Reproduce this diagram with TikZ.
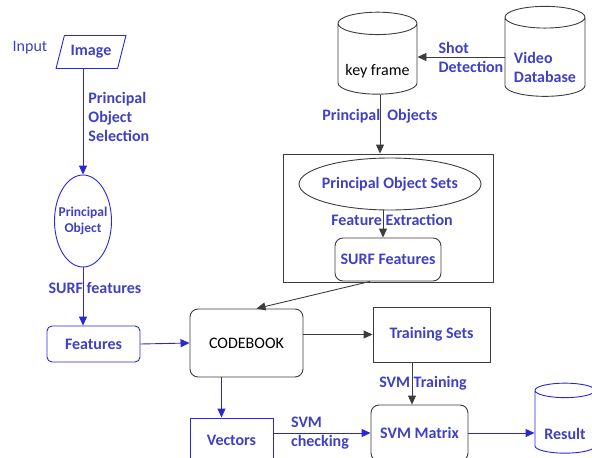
\documentclass[tikz,border=0pt]{standalone}
\usepackage{fontspec}
\setmainfont{Carlito}
\usetikzlibrary{arrows.meta,shapes.geometric}

\definecolor{lblue}{RGB}{64,64,196}
\definecolor{eblue}{RGB}{40,40,215}
\definecolor{kgray}{RGB}{60,60,60}

% text set lower inside a cylinder
\newcommand{\dbtext}[2]{\raisebox{-#1}[0pt][0pt]{\begin{tabular}{@{}l@{}}#2\end{tabular}}}

\begin{document}
\begin{tikzpicture}[x=1pt,y=-1pt,>={Triangle[width=8pt,length=9pt]},line width=0.9pt,
  lbl/.style={text=lblue,font=\bfseries\fontsize{16}{19}\selectfont,align=left,inner sep=1pt},
  blue node/.style={draw=eblue,text=lblue,font=\bfseries\fontsize{16}{19}\selectfont,inner sep=0pt},
  gray node/.style={draw=kgray,text=lblue,font=\bfseries\fontsize{16}{19}\selectfont,inner sep=0pt},
  db/.style={cylinder,shape border rotate=90,shape aspect=0.35,inner sep=0pt},
  blue line/.style={->,draw=eblue},
  gray line/.style={->,draw=kgray}]

  \useasboundingbox (0,0) rectangle (592,458);

  % left column
  \node[text=lblue,font=\fontsize{16}{19}\selectfont] (input) at (30,48) {Input};
  \node[blue node,trapezium,trapezium left angle=64,trapezium right angle=116,
        trapezium stretches=true,minimum width=70,minimum height=33] (image) at (91,52) {Image};
  \node[blue node,ellipse,minimum width=57,minimum height=92,inner xsep=-14pt,
        font=\bfseries\fontsize{13.5}{16}\selectfont,align=center] (pobj) at (83,221) {Principal\\Object};
  \node[blue node,rounded corners=5,minimum width=93,minimum height=36] (feat) at (93.5,344) {Features};
  \node[blue node,minimum width=83,minimum height=44] (vec) at (231.5,440) {Vectors};

  % middle and right
  \node[draw=kgray,rounded corners=8,minimum width=113,minimum height=68,
        font=\fontsize{16}{19}\selectfont] (code) at (246.5,343) {CODEBOOK};
  \node[gray node,minimum width=117,minimum height=55] (train) at (431.5,334.5) {Training Sets};
  \node[gray node,rounded corners=8,minimum width=97,minimum height=56] (svm) at (419.5,433) {SVM Matrix};
  \node[blue node,db,minimum width=60,minimum height=70] (result) at (565,422) {\dbtext{18pt}{Result}};

  \node[draw=kgray,db,minimum width=79,minimum height=82,
        font=\fontsize{16}{19}\selectfont] (key) at (377.5,59) {\dbtext{17pt}{key frame}};
  \node[gray node,db,minimum width=80,minimum height=90] (video) at (545,57) {\dbtext{17pt}{Video\\Database}};

  \node[draw=kgray,minimum width=210,minimum height=128] (group) at (388,218) {};
  \node[gray node,ellipse,minimum width=182,minimum height=52,inner xsep=-4pt] (sets) at (390,184) {Principal Object Sets};
  \node[gray node,rounded corners=8,minimum width=106,minimum height=43] (surf) at (388,259.5) {SURF Features};

  % connectors
  \draw[blue line] (image.south -| pobj) -- (pobj.north)
    node[lbl,right,pos=0.45,xshift=4] {Principal\\Object\\Selection};
  \draw[blue line] (pobj.south) -- (pobj.south |- feat.north)
    node[lbl,pos=0.36,xshift=12] {SURF features};
  \draw[blue line] (feat.east) -- (code.west);
  \draw[blue line] ([xshift=-25]code.south) -- ([xshift=-25]code.south |- vec.north);
  \draw[blue line] (vec.east |- svm.west) -- (svm.west)
    node[lbl,midway,xshift=-2] {SVM\\checking};
  \draw[blue line] (svm.east) -- (svm.east -| result.west);

  \draw[gray line] (code.east |- train.west) -- (train.west);
  \draw[gray line] ([xshift=-19.5]train.south) -- ([xshift=-19.5]train.south |- svm.north)
    node[lbl,midway,xshift=11] {SVM Training};
  \draw[gray line] (video.west) -- (video.west -| key.east)
    node[lbl,midway,xshift=10] {Shot\\Detection};
  \draw[gray line] (key.south -| 380,0) -- (group.north -| 380,0)
    node[lbl,pos=0.37] {Principal\ \ Objects};
  \draw[gray line] (sets.south -| 383,0) -- (surf.north -| 383,0)
    node[lbl,pos=0.35,xshift=9] {Feature Extraction};
  \draw[gray line] ([xshift=-18]surf.south) -- ([xshift=10]code.north);
\end{tikzpicture}
\end{document}
